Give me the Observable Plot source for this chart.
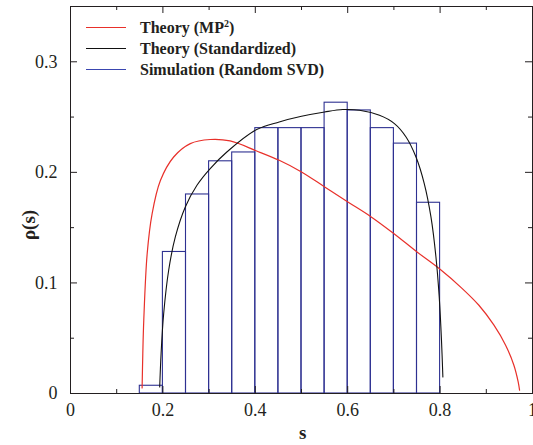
<!DOCTYPE html>
<html>
<head>
<meta charset="utf-8">
<script src="https://cdn.jsdelivr.net/npm/d3@7"></script>
<script src="https://cdn.jsdelivr.net/npm/@observablehq/plot@0.6"></script>
<style>
  html, body { margin: 0; padding: 0; background: #fff; }
  #wrap { position: relative; width: 533px; height: 445px; overflow: hidden; }
  #wrap svg text { font-family: 'Liberation Serif', 'Times New Roman', 'DejaVu Serif', serif !important; }
  .lab { position: absolute; font-family: 'Liberation Serif', 'Times New Roman', 'DejaVu Serif', serif; font-weight: bold; color: #231f20; white-space: nowrap; }
  #legend { position: absolute; left: 86px; top: 17px; font-family: 'Liberation Serif', 'Times New Roman', 'DejaVu Serif', serif; font-weight: bold; font-size: 16px; color: #231f20; }
  .row { display: flex; align-items: center; height: 21px; }
  .sw { width: 40px; height: 0; border-top: 1px solid; margin-right: 14px; }
</style>
</head>
<body>
<div id="wrap"></div>
<script>
// Histogram (Simulation, Random SVD): bin edges and heights
const binEdges = [0.15, 0.2, 0.25, 0.3, 0.35, 0.4, 0.45, 0.5, 0.55, 0.6, 0.65, 0.7, 0.75, 0.8];
const binHeights = [0.007, 0.128, 0.180, 0.210, 0.218, 0.240, 0.240, 0.240, 0.263, 0.256, 0.240, 0.226, 0.1725];

// Theory (MP^2) curve
const mpS = [0.155, 0.1565, 0.1586, 0.166, 0.1767, 0.1946, 0.2233, 0.2593, 0.3024, 0.3455, 0.403, 0.4517, 0.5, 0.5502, 0.6004, 0.6509, 0.6996, 0.75, 0.798, 0.848, 0.884, 0.9166, 0.9418, 0.9597, 0.969, 0.972];
const mpV = [0.005, 0.036, 0.0663, 0.1266, 0.1627, 0.1926, 0.2139, 0.226, 0.2297, 0.2284, 0.2193, 0.2109, 0.2004, 0.1868, 0.1732, 0.1597, 0.1447, 0.128, 0.113, 0.0949, 0.0798, 0.0618, 0.0437, 0.0256, 0.0105, 0.003];

// Theory (Standardized) curve
const stS = [0.1931, 0.1961, 0.2017, 0.2125, 0.2269, 0.2485, 0.2737, 0.3024, 0.3384, 0.403, 0.4517, 0.5, 0.5502, 0.5897, 0.6256, 0.6688, 0.7011, 0.7263, 0.7478, 0.7657, 0.7802, 0.791, 0.7981, 0.803, 0.806];
const stV = [0.006, 0.0362, 0.0723, 0.1115, 0.1416, 0.1687, 0.1883, 0.2034, 0.2184, 0.2387, 0.2456, 0.2507, 0.2546, 0.2568, 0.2562, 0.2516, 0.2441, 0.232, 0.2139, 0.1899, 0.1597, 0.1235, 0.0873, 0.0482, 0.015];

// Tick values and labels
const xMajor = [0, 0.2, 0.4, 0.6, 0.8, 1];
const xLabels = ["0", "0.2", "0.4", "0.6", "0.8", "1"];
const xMinor = [0.1, 0.3, 0.5, 0.7, 0.9];
const yMajor = [0, 0.1, 0.2, 0.3];
const yLabels = ["0", "0.1", "0.2", "0.3"];
const yMinor = [0.05, 0.15, 0.25];

const legendItems = ["Theory (MP<sup style='font-size:10px'>2</sup>)", "Theory (Standardized)", "Simulation (Random SVD)"];
const legendColors = ["#e8302a", "#111111", "#3a46b0"];

const bins = binHeights.map((h, i) => ({x1: binEdges[i], x2: binEdges[i + 1], y: h}));
const mp = mpS.map((s, i) => ({s, v: mpV[i]}));
const st = stS.map((s, i) => ({s, v: stV[i]}));

const W = 533, H = 445, mL = 70, mR = 1, mT = 6, mB = 52;
const pw = W - mL - mR, ph = H - mT - mB;
const major = 7, minor = 4;

const chart = Plot.plot({
  width: W, height: H,
  marginLeft: mL, marginRight: mR, marginTop: mT, marginBottom: mB,
  x: {domain: [0, 1]},
  y: {domain: [0, 0.35]},
  style: {fontFamily: "'Liberation Serif', 'Times New Roman', serif", fontSize: "18px", color: "#231f20", background: "white"},
  marks: [
    Plot.rectY(bins, {x1: "x1", x2: "x2", y: "y", fill: "none", stroke: "#2e3191", strokeWidth: 1.1}),
    Plot.line(mp, {x: "s", y: "v", stroke: "#e8302a", strokeWidth: 1.2, curve: "catmull-rom"}),
    Plot.line(st, {x: "s", y: "v", stroke: "#111", strokeWidth: 1.1, curve: "catmull-rom"}),
    Plot.frame({stroke: "#231f20", strokeWidth: 1}),
    // inward ticks on all four sides
    Plot.tickX(xMajor, {x: d => d, insetTop: ph - major, stroke: "#231f20"}),
    Plot.tickX(xMinor, {x: d => d, insetTop: ph - minor, stroke: "#231f20"}),
    Plot.tickX(xMajor, {x: d => d, insetBottom: ph - major, stroke: "#231f20"}),
    Plot.tickX(xMinor, {x: d => d, insetBottom: ph - minor, stroke: "#231f20"}),
    Plot.tickY(yMajor, {y: d => d, insetRight: pw - major, stroke: "#231f20"}),
    Plot.tickY(yMinor, {y: d => d, insetRight: pw - minor, stroke: "#231f20"}),
    Plot.tickY(yMajor, {y: d => d, insetLeft: pw - major, stroke: "#231f20"}),
    Plot.tickY(yMinor, {y: d => d, insetLeft: pw - minor, stroke: "#231f20"}),
    Plot.axisX({ticks: xMajor, tickFormat: (d, i) => xLabels[i], tickSize: 0, tickPadding: 10, label: null}),
    Plot.axisY({ticks: yMajor, tickFormat: (d, i) => yLabels[i], tickSize: 0, tickPadding: 13, label: null})
  ]
});

const wrap = document.getElementById("wrap");
wrap.appendChild(chart);

// axis titles
const xl = document.createElement("div");
xl.className = "lab"; xl.style.fontSize = "19px";
xl.textContent = "s";
xl.style.left = "299px"; xl.style.top = "422px";
wrap.appendChild(xl);

const yl = document.createElement("div");
yl.className = "lab"; yl.style.fontSize = "19px";
yl.textContent = "ρ(s)";
yl.style.left = "14px"; yl.style.top = "214px";
yl.style.transform = "rotate(-90deg)";
wrap.appendChild(yl);

// legend
const lg = document.createElement("div");
lg.id = "legend";
legendItems.forEach((t, i) => {
  const r = document.createElement("div"); r.className = "row";
  const sw = document.createElement("div"); sw.className = "sw"; sw.style.borderTopColor = legendColors[i];
  const tx = document.createElement("span"); tx.innerHTML = t;
  r.appendChild(sw); r.appendChild(tx); lg.appendChild(r);
});
wrap.appendChild(lg);
</script>
</body>
</html>
